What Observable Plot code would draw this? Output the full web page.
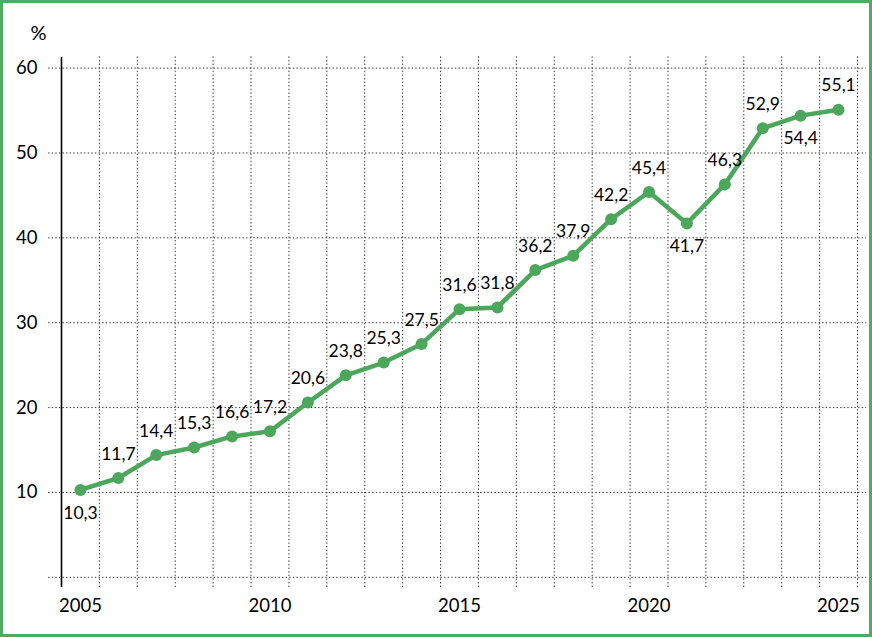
<!DOCTYPE html>
<html><head><meta charset="utf-8">
<script src="https://cdn.jsdelivr.net/npm/d3@7"></script>
<script src="https://cdn.jsdelivr.net/npm/@observablehq/plot@0.6"></script>
<style>
body{margin:0;background:#fff}
#chart svg{display:block; outline:3px solid #4eab5f; outline-offset:-3px}
</style></head><body><div id="chart"></div>
<script>
const years = [2005,2006,2007,2008,2009,2010,2011,2012,2013,2014,2015,2016,2017,2018,2019,2020,2021,2022,2023,2024,2025];
const values = [10.3,11.7,14.4,15.3,16.6,17.2,20.6,23.8,25.3,27.5,31.6,31.8,36.2,37.9,42.2,45.4,41.7,46.3,52.9,54.4,55.1];
const yTicks = [10,20,30,40,50,60];
const yGrid = [0,10,20,30,40,50,60];
const xTicks = [2005,2010,2015,2020,2025];
const labelsBelow = [2005,2021,2024];
const unit = "%";

const green = "#4ca75c";
const data = years.map((year,i)=>({year, value: values[i], label: values[i].toFixed(1).replace(".", ",")}));
const xDomain = [years[0]-0.5, years[years.length-1]+0.5];
const yDomain = [-1.2, 61.25];
const bounds = years.map(y=>y+0.5);
const dotted = {stroke:"#333", strokeWidth:1, strokeDasharray:"1.4,2.2"};

const chart = Plot.plot({
  width: 872, height: 637,
  marginLeft: 61, marginRight: 15, marginTop: 57, marginBottom: 50,
  x: {domain: xDomain},
  y: {domain: yDomain},
  style: {fontFamily: "Lato, 'Open Sans', sans-serif", background: "white", color: "black"},
  marks: [
    Plot.ruleY(yGrid, {x1: xDomain[0]-0.34, x2: xDomain[1]+0.24, ...dotted}),
    Plot.ruleX(bounds, {y1: yDomain[0], y2: yDomain[1]+0.2, ...dotted}),
    Plot.ruleX([xDomain[0]], {y1: yDomain[0], y2: yDomain[1], stroke: "black", strokeWidth: 1.6}),
    Plot.axisY({ticks: yTicks, tickSize: 0, tickPadding: 24, fontSize: 18.5, label: null}),
    Plot.axisX({ticks: xTicks, tickSize: 0, tickPadding: 11, fontSize: 18.5, label: null, tickFormat: d => String(d)}),
    Plot.line(data, {x: "year", y: "value", stroke: green, strokeWidth: 4.5}),
    Plot.dot(data, {x: "year", y: "value", r: 6, fill: green}),
    Plot.text(data.filter(d => !labelsBelow.includes(d.year)), {x: "year", y: "value", text: "label", dy: -24, fontSize: 17.5, fill: "black"}),
    Plot.text(data.filter(d => labelsBelow.includes(d.year)), {x: "year", y: "value", text: "label", dy: 23, fontSize: 17.5, fill: "black"}),
    Plot.text([unit], {frameAnchor: "top-left", text: d => d, dx: -31, dy: -32, fontSize: 20, fill: "black"})
  ]
});
document.getElementById("chart").append(chart);
</script></body></html>
